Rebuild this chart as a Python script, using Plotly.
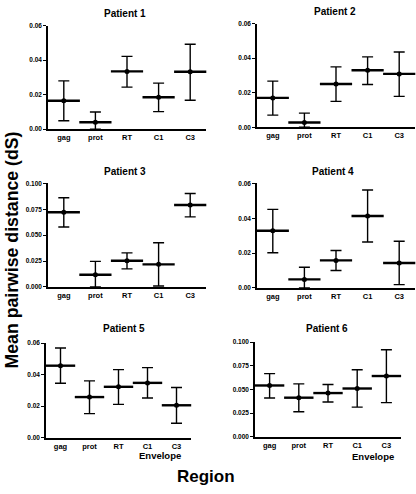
import plotly.graph_objects as go

regions = ["gag", "prot", "RT", "C1", "C3"]
patients = ["Patient 1", "Patient 2", "Patient 3", "Patient 4", "Patient 5", "Patient 6"]

p1_mean = [0.0165, 0.0040, 0.0335, 0.0185, 0.0333]
p1_upper = [0.0280, 0.0100, 0.0422, 0.0267, 0.0492]
p1_lower = [0.0049, 0.0, 0.0244, 0.0102, 0.0168]

p2_mean = [0.0170, 0.0027, 0.0251, 0.0330, 0.0309]
p2_upper = [0.0267, 0.0082, 0.0350, 0.0408, 0.0436]
p2_lower = [0.0070, 0.0, 0.0150, 0.0248, 0.0179]

p3_mean = [0.0722, 0.0117, 0.0253, 0.0218, 0.0791]
p3_upper = [0.0861, 0.0247, 0.0329, 0.0427, 0.0902]
p3_lower = [0.0579, 0.0, 0.0174, 0.0009, 0.0677]

p4_mean = [0.0328, 0.0049, 0.0158, 0.0413, 0.0143]
p4_upper = [0.0451, 0.0119, 0.0215, 0.0562, 0.0268]
p4_lower = [0.0202, 0.0, 0.0100, 0.0264, 0.0019]

p5_mean = [0.0457, 0.0258, 0.0323, 0.0348, 0.0206]
p5_upper = [0.0569, 0.0361, 0.0432, 0.0445, 0.0319]
p5_lower = [0.0346, 0.0153, 0.0212, 0.0252, 0.0092]

p6_mean = [0.0542, 0.0413, 0.0462, 0.0510, 0.0642]
p6_upper = [0.0667, 0.0559, 0.0552, 0.0708, 0.0920]
p6_lower = [0.0410, 0.0264, 0.0368, 0.0313, 0.0361]

y_max = [0.06, 0.06, 0.10, 0.06, 0.06, 0.10]
y_ticks_small = [0.0, 0.02, 0.04, 0.06]
y_ticks_large = [0.0, 0.025, 0.05, 0.075, 0.1]

W, H = 416, 494
# pixel boxes: (x0, x1, ytop, ybottom)
boxes = [
    (48, 206, 22, 127),
    (257, 415, 20, 125),
    (48, 206, 182, 287),
    (257, 415, 182, 288),
    (46, 191, 344, 440),
    (255, 401, 343, 439),
]
title_pos = [(125, 10), (335, 8), (125, 170), (333, 170), (124, 329), (327, 329)]
mean_w = [23, 23, 23, 23, 21, 21]

data = [
    (p1_mean, p1_upper, p1_lower),
    (p2_mean, p2_upper, p2_lower),
    (p3_mean, p3_upper, p3_lower),
    (p4_mean, p4_upper, p4_lower),
    (p5_mean, p5_upper, p5_lower),
    (p6_mean, p6_upper, p6_lower),
]

FONT = "Liberation Sans"
fig = go.Figure()
layout = {}
annotations = []


def ann(text, px, py, size, angle=0):
    return dict(text=text, x=px / W, y=1 - py / H, xref="paper", yref="paper",
                xanchor="center", yanchor="middle", showarrow=False, textangle=angle,
                font=dict(family=FONT, size=size, color="black", weight="bold"))


for i, ((mean, up, lo), box) in enumerate(zip(data, boxes)):
    n = i + 1
    xa = "x" if n == 1 else f"x{n}"
    ya = "y" if n == 1 else f"y{n}"
    plus = [u - m for u, m in zip(up, mean)]
    minus = [m - l for m, l in zip(mean, lo)]
    fig.add_trace(go.Scatter(
        x=regions, y=mean, xaxis=xa, yaxis=ya, mode="markers",
        marker=dict(symbol="line-ew", size=mean_w[i], line=dict(width=2.4, color="black"), color="black"),
        error_y=dict(type="data", array=plus, arrayminus=minus, color="black",
                     thickness=1.4, width=5.5),
        showlegend=False, cliponaxis=False,
    ))
    fig.add_trace(go.Scatter(
        x=regions, y=mean, xaxis=xa, yaxis=ya, mode="markers",
        marker=dict(symbol="circle", size=5, color="black"),
        showlegend=False, cliponaxis=False,
    ))
    x0, x1, yt, yb = box
    big = y_max[i] > 0.07
    layout["xaxis" + ("" if n == 1 else str(n))] = dict(
        domain=[x0 / W, x1 / W], anchor=ya, range=[-0.5, 4.5],
        showline=True, linecolor="black", linewidth=1.5, ticks="",
        showgrid=False, zeroline=False,
        tickfont=dict(family=FONT, size=7.5, color="black", weight="bold"),
    )
    layout["yaxis" + ("" if n == 1 else str(n))] = dict(
        domain=[1 - yb / H, 1 - yt / H], anchor=xa, range=[0, y_max[i]],
        showline=True, linecolor="black", linewidth=1.5, ticks="outside",
        ticklen=3, tickwidth=1.2, tickcolor="black",
        tickvals=y_ticks_large if big else y_ticks_small,
        tickformat=".3f" if big else ".2f",
        showgrid=False, zeroline=False,
        tickfont=dict(family=FONT, size=6.5, color="black", weight="bold"),
    )
    annotations.append(ann(patients[i], title_pos[i][0], title_pos[i][1], 10))

annotations.append(ann("Envelope", 160, 458, 9.5))
annotations.append(ann("Envelope", 373, 459, 9.5))
annotations.append(ann("Region", 206, 479, 17))
annotations.append(ann("Mean pairwise distance (dS)", 12, 250, 17.7, angle=-90))

fig.update_layout(
    width=W, height=H, margin=dict(l=0, r=0, t=0, b=0),
    paper_bgcolor="white", plot_bgcolor="white",
    annotations=annotations, **layout,
)
fig.write_html("out.html", config={"displayModeBar": False},
               post_script="document.body.style.margin='0';document.body.style.overflow='hidden';")
